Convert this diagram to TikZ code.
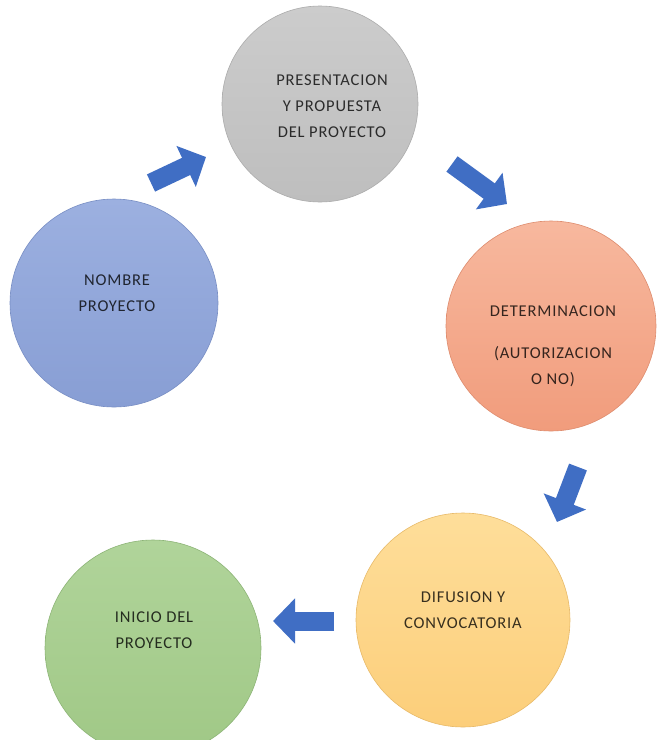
\documentclass[tikz,border=0pt]{standalone}
\usepackage{fontspec}
\setmainfont{Carlito}[LetterSpace=5]
\usetikzlibrary{arrows.meta}
\definecolor{arrowblue}{RGB}{64,110,196}
\definecolor{grayT}{RGB}{204,204,204}\definecolor{grayB}{RGB}{190,190,190}\definecolor{grayD}{RGB}{172,172,172}
\definecolor{blueT}{RGB}{156,176,224}\definecolor{blueB}{RGB}{136,158,212}\definecolor{blueD}{RGB}{120,142,196}
\definecolor{orangeT}{RGB}{247,184,158}\definecolor{orangeB}{RGB}{241,156,124}\definecolor{orangeD}{RGB}{222,140,110}
\definecolor{yellowT}{RGB}{254,222,154}\definecolor{yellowB}{RGB}{252,206,122}\definecolor{yellowD}{RGB}{232,186,105}
\definecolor{greenT}{RGB}{176,212,154}\definecolor{greenB}{RGB}{160,200,134}\definecolor{greenD}{RGB}{140,180,118}
\tikzset{
  bubble/.style={circle, inner sep=0pt, line width=0.6pt},
  bubbletext/.style={align=center, text=black, text opacity=0.78,
    font=\fontsize{16.5}{26}\selectfont, inner sep=0pt},
  blockarrow/.style={arrowblue, line width=19pt,
    -{Triangle[length=22pt,width=44pt]}}
}
\begin{document}
\begin{tikzpicture}[x=1pt,y=-1pt]
\useasboundingbox[fill=white] (0,0) rectangle (658,740);
% circles
\node[bubble, minimum size=196pt, draw=grayD, top color=grayT, bottom color=grayB] (pres) at (320,104) {};
\node[bubble, minimum size=208pt, draw=blueD, top color=blueT, bottom color=blueB] (nombre) at (114,303) {};
\node[bubble, minimum size=210pt, draw=orangeD, top color=orangeT, bottom color=orangeB] (det) at (551,326) {};
\node[bubble, minimum size=214pt, draw=yellowD, top color=yellowT, bottom color=yellowB] (dif) at (463,620) {};
\node[bubble, minimum size=216pt, draw=greenD, top color=greenT, bottom color=greenB] (ini) at (153,648) {};
% texts
\node[bubbletext] (tpres) at (332,106) {PRESENTACION\\Y PROPUESTA\\DEL PROYECTO};
\node[bubbletext] (tnombre) at (117,293) {NOMBRE\\PROYECTO};
\node[bubbletext] (tdet) at (553,346) {DETERMINACION\\[16pt](AUTORIZACION\\O NO)};
\node[bubbletext] (tdif) at (463,610) {DIFUSION Y\\CONVOCATORIA};
\node[bubbletext] (tini) at (154,630) {INICIO DEL\\PROYECTO};
% arrows
\coordinate (a1s) at (151,183); \coordinate (a1e) at (206,157);
\coordinate (a2s) at (452,164); \coordinate (a2e) at (507,204);
\coordinate (a3s) at (578,467); \coordinate (a3e) at (557,522);
\coordinate (a4s) at (334,621); \coordinate (a4e) at (273,621);
\draw[blockarrow] (a1s) -- (a1e);
\draw[blockarrow] (a2s) -- (a2e);
\draw[blockarrow] (a3s) -- (a3e);
\draw[blockarrow] (a4s) -- (a4e);
\end{tikzpicture}
\end{document}
